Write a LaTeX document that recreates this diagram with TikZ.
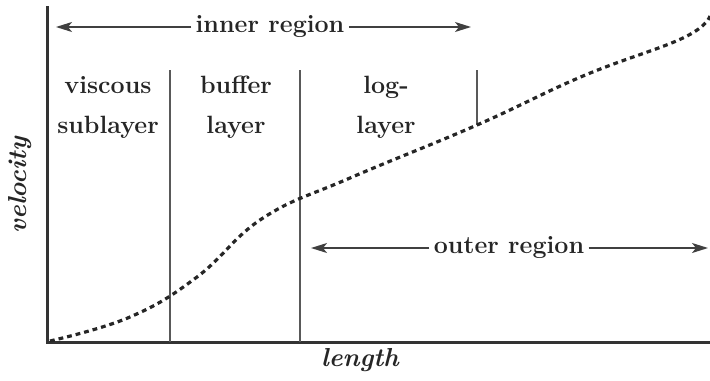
\documentclass[tikz,border=0pt]{standalone}
\usepackage{tikz}
\usetikzlibrary{arrows.meta, positioning}

\begin{document}
\begin{tikzpicture}[
  x=0.5pt, y=-0.5pt,
  every node/.style = {font=\fontsize{12.5}{20}\selectfont\bfseries, text=black!85},
  layerlbl/.style = {align=center, inner sep=0pt},
  reglbl/.style   = {fill=white, inner sep=2pt},
  axislbl/.style  = {font=\fontsize{13}{20}\selectfont\bfseries\itshape},
  axis/.style     = {line width=1.5pt, black!80},
  divider/.style  = {line width=0.8pt, black!65},
  arr/.style      = {-{Stealth[length=8pt, width=5pt, inset=2pt]},
                     line width=0.8pt, black!75},
  profile/.style  = {line width=1.6pt, black!85,
                     dash pattern=on 2.4pt off 2pt},
]
\useasboundingbox (0,0) rectangle (710,380);

%% ── Axes ──────────────────────────────────────────────────────────────────
\coordinate (origin) at (47,342);
\coordinate (ytop)   at (47,6);
\coordinate (xend)   at (710,342);
\draw[axis] (ytop) -- (origin) -- (xend);

\node[axislbl, rotate=90] at (20,185) (vel) {velocity};
\node[axislbl] at (360,360) (len) {length};

%% ── Layer dividers ────────────────────────────────────────────────────────
\coordinate (d1top) at (170,70);
\coordinate (d2top) at (300,70);
\coordinate (d3top) at (477,70);
\draw[divider] (d1top) -- (d1top |- origin);
\draw[divider] (d2top) -- (d2top |- origin);
\draw[divider] (d3top) -- (477,125);

%% ── Layer labels ──────────────────────────────────────────────────────────
\node[layerlbl] at (108,107) (visc) {viscous\\sublayer};
\node[layerlbl] at (236,107) (buff) {buffer\\layer};
\node[layerlbl] at (386,107) (logl) {log-\\layer};

%% ── Region arrows ─────────────────────────────────────────────────────────
\node[reglbl] at (270,27) (inner) {inner region};
\coordinate (innerL) at (56,27);
\coordinate (innerR) at (471,27);
\draw[arr] (inner) -- (innerL);
\draw[arr] (inner) -- (innerR);

\node[reglbl] at (509,248) (outer) {outer region};
\coordinate (outerL) at (311,248);
\coordinate (outerR) at (708,248);
\draw[arr] (outer) -- (outerL);
\draw[arr] (outer) -- (outerR);

%% ── Velocity profile ──────────────────────────────────────────────────────
\draw[profile] plot[smooth, tension=0.7] coordinates {
  (50,341) (130,317) (197,277) (263,218) (350,178) (477,125)
  (583,76) (683,38) (710,16)};

\end{tikzpicture}
\end{document}
